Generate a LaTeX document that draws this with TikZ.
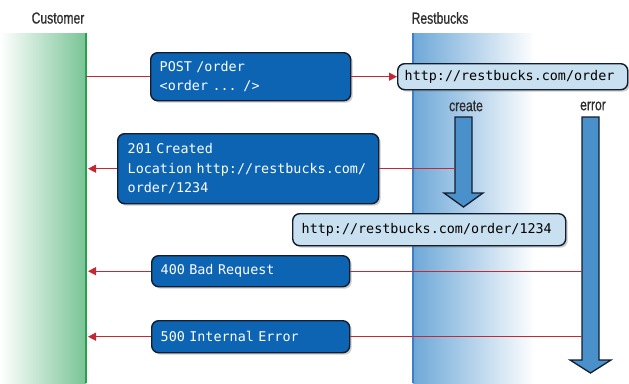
\documentclass[tikz,border=0pt]{standalone}
\usepackage{fontspec}
\newfontfamily\condfont[FakeStretch=0.76,FakeBold=0.6]{Liberation Sans}
\newfontfamily\boxmono{DejaVu Sans Mono}
\newcommand\boxmonofont{\boxmono\fontsize{13.4}{19.5}\selectfont
  \fontdimen2\font=0.602em\fontdimen3\font=0pt\fontdimen4\font=0pt\relax}
\usetikzlibrary{shadows,arrows.meta}
\definecolor{boxblue}{RGB}{12,100,178}
\definecolor{boxborder}{RGB}{18,30,48}
\definecolor{lightbox}{RGB}{200,224,240}
\definecolor{arrowblue}{RGB}{74,144,202}
\definecolor{bandgreen}{RGB}{120,196,150}
\definecolor{greenline}{RGB}{40,160,80}
\definecolor{bandblue}{RGB}{110,168,216}
\definecolor{blueline}{RGB}{60,128,192}
\definecolor{redline}{RGB}{196,40,52}
\definecolor{labelgray}{RGB}{45,45,45}
\tikzset{
  boxbase/.style={draw=boxborder, line width=1.4pt, rounded corners=7pt,
    font=\boxmonofont, align=left,
    inner ysep=0pt, anchor=north west,
    drop shadow={shadow xshift=2pt, shadow yshift=-2pt, opacity=0.4}},
  darkbox/.style={boxbase, fill=boxblue, text=white},
  lightbox/.style={boxbase, fill=lightbox, text=black},
  lbl/.style={font=\condfont\fontsize{16}{18}\selectfont, text=labelgray},
  msg/.style={draw=redline, line width=1.3pt},
  msgarrow/.style={msg, -{Triangle[length=8pt,width=8pt]}},
  bigarrow/.style={draw=boxborder, line width=1.3pt, fill=arrowblue, line join=miter},
}
\begin{document}
\begin{tikzpicture}[x=1pt,y=-1pt]
\useasboundingbox (0,0) rectangle (629,383);
\fill[white] (0,0) rectangle (629,383);
% swimlanes
\fill[left color=white, right color=bandgreen] (0,33) rectangle (86,383);
\draw[greenline, line width=2pt] (86,33) -- (86,383);
\fill[left color=bandblue, right color=white] (413,33) rectangle (535,383);
\draw[blueline, line width=1.5pt] (413,33) -- (413,383);
\node[lbl] (cust) at (58,18) {Customer};
\node[lbl] (rest) at (440,18) {Restbucks};
\coordinate (gl) at (88,0);
\coordinate (gstart) at (86,0);
% labels for branches
\node[lbl] (create) at (466,106) {create};
\node[lbl] (error) at (593,106) {error};
% big arrows
\draw[bigarrow] (455,117) -- (472,117) -- (472,193) -- (483,193) -- (463.5,207) -- (444,193) -- (455,193) -- cycle;
\draw[bigarrow] (582,117) -- (599,117) -- (599,360) -- (611,360) -- (590.5,373) -- (570,360) -- (582,360) -- cycle;
\coordinate (cr) at (455,0);
\coordinate (er) at (582,0);
% boxes
\node[darkbox, minimum width=200pt, minimum height=48pt, text width=182pt, inner xsep=9pt] (post) at (150,52)
  {POST /order\\<order ... />};
\node[lightbox, minimum width=230pt, minimum height=26pt, text width=216pt, inner xsep=7pt] (url1) at (397,63)
  {http://restbucks.com/order};
\node[darkbox, minimum width=261pt, minimum height=70pt, text width=241pt, inner xsep=10pt] (r201) at (117,133)
  {201 Created\\Location http://restbucks.com/\\order/1234};
\node[lightbox, minimum width=273pt, minimum height=32pt, text width=255pt, inner xsep=9pt] (url2) at (292,213)
  {http://restbucks.com/order/1234};
\node[darkbox, minimum width=198pt, minimum height=31pt, text width=180pt, inner xsep=9pt] (r400) at (151,255)
  {400 Bad Request};
\node[darkbox, minimum width=198pt, minimum height=32pt, text width=180pt, inner xsep=9pt] (r500) at (151,320)
  {500 Internal Error};
% messages
\draw[msg] (post.west -| gstart) -- (post.west);
\draw[msgarrow] (post.east) -- (url1.west);
\draw[msg] (r201.east -| cr) -- (r201.east);
\draw[msgarrow] (r201.west) -- (r201.west -| gl);
\draw[msg] (r400.east -| er) -- (r400.east);
\draw[msgarrow] (r400.west) -- (r400.west -| gl);
\draw[msg] (r500.east -| er) -- (r500.east);
\draw[msgarrow] (r500.west) -- (r500.west -| gl);
\end{tikzpicture}
\end{document}
